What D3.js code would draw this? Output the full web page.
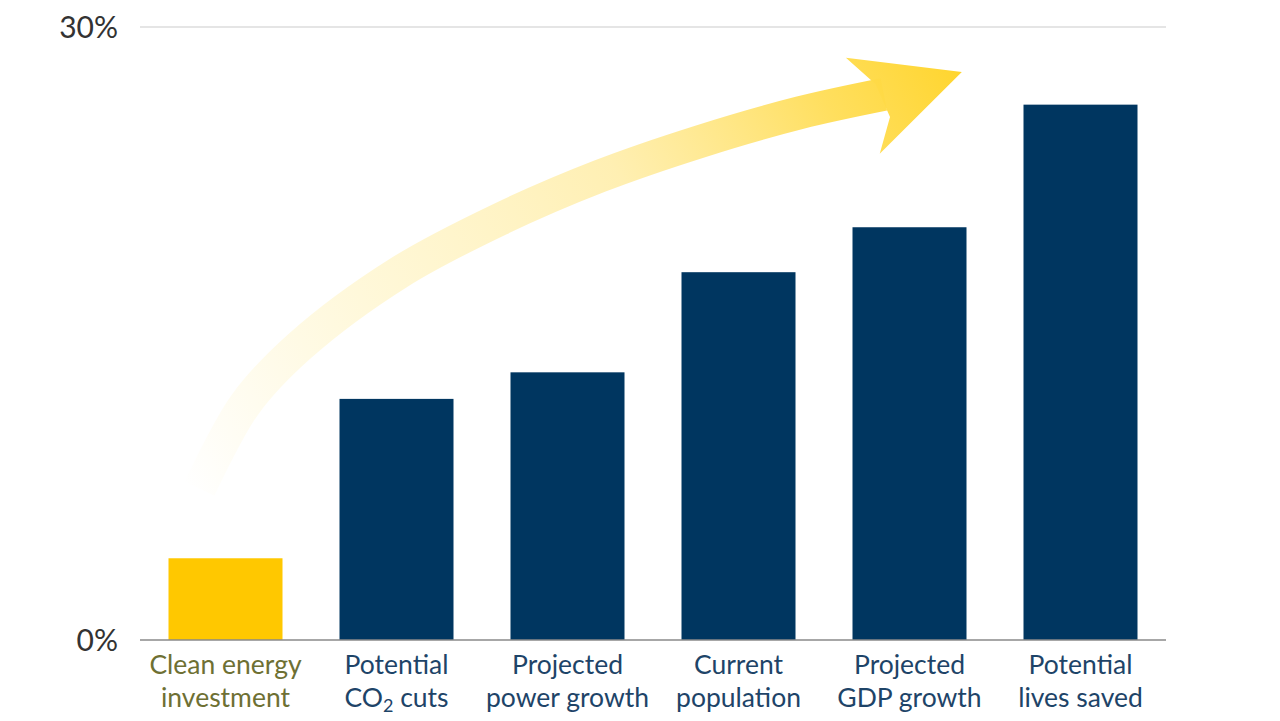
<!DOCTYPE html>
<html><head><meta charset="utf-8">
<script src="https://cdn.jsdelivr.net/npm/d3@7"></script>
<style>body{margin:0;background:#fff;}svg{display:block;}</style>
</head><body>
<svg id="chart" width="1280" height="721"></svg>
<script>
const categories = ["Clean energy investment","Potential CO2 cuts","Projected power growth","Current population","Projected GDP growth","Potential lives saved"];
const labelLines = [["Clean energy","investment"],["Potential","CO|2| cuts"],["Projected","power growth"],["Current","population"],["Projected","GDP growth"],["Potential","lives saved"]];
const values = [4.0, 11.8, 13.1, 18.0, 20.2, 26.2];
const tickValues = [0, 30];
const tickLabels = ["0%","30%"];
// decorative arrow centerline, in [fraction of plot width, percent] units
const arrowPath = [[0.058,7.4],[0.102,11.5],[0.156,14.4],[0.253,18.0],[0.351,20.6],[0.448,22.7],[0.546,24.4],[0.643,25.8],[0.725,26.7]];
const arrowHead = [[0.688,28.5],[0.801,27.8],[0.721,23.8],[0.731,25.6],[0.717,27.2]];

const svg = d3.select("#chart");
const m = {left:140, right:114, top:27, bottom:81};
const W = 1280 - m.left - m.right, H = 721 - m.top - m.bottom;
const g = svg.append("g").attr("transform",`translate(${m.left},${m.top})`);

const x = d3.scaleBand().domain(categories).range([0,W]).paddingInner(1/3).paddingOuter(1/6);
const y = d3.scaleLinear().domain([0,30]).range([H,0]);
const fx = d3.scaleLinear().domain([0,1]).range([0,W]);

// grid line at top
g.append("line").attr("x1",0).attr("x2",W).attr("y1",y(30)).attr("y2",y(30)).attr("stroke","#dcdcdc").attr("stroke-width",1.5);

// arrow
const defs = svg.append("defs");
const grad = defs.append("linearGradient").attr("id","ag").attr("gradientUnits","userSpaceOnUse")
  .attr("x1",fx(0.05)).attr("y1",y(7)).attr("x2",fx(0.80)).attr("y2",y(28));
grad.append("stop").attr("offset","0").attr("stop-color","#FFEFA8").attr("stop-opacity",0);
grad.append("stop").attr("offset","0.3").attr("stop-color","#FFF0B0").attr("stop-opacity",0.5);
grad.append("stop").attr("offset","0.6").attr("stop-color","#FFEA99").attr("stop-opacity",0.75);
grad.append("stop").attr("offset","0.85").attr("stop-color","#FFDD55").attr("stop-opacity",0.95);
grad.append("stop").attr("offset","1").attr("stop-color","#FFD52E").attr("stop-opacity",1);

const line = d3.line().x(d=>fx(d[0])).y(d=>y(d[1])).curve(d3.curveCatmullRom);
g.append("path").attr("d",line(arrowPath)).attr("fill","none").attr("stroke","url(#ag)").attr("stroke-width",33);
g.append("path").attr("d","M"+arrowHead.map(d=>[fx(d[0]),y(d[1])].join(",")).join("L")+"Z").attr("fill","url(#ag)");

// bars
g.selectAll("rect.bar").data(values).enter().append("rect")
  .attr("x",(d,i)=>x(categories[i])).attr("y",d=>y(d))
  .attr("width",x.bandwidth()).attr("height",d=>H-y(d))
  .attr("fill",(d,i)=>i===0?"#FFC800":"#003660");

// baseline
g.append("line").attr("x1",0).attr("x2",W).attr("y1",H).attr("y2",H).attr("stroke","#8a8a8a").attr("stroke-width",1.5);

// y ticks
const yAxis = d3.axisLeft(y).tickValues(tickValues).tickSize(0).tickPadding(22).tickFormat((d,i)=>tickLabels[i]);
const ya = g.append("g").call(yAxis);
ya.select(".domain").remove();
ya.selectAll("text").attr("font-family","Lato, sans-serif").attr("font-size",30).attr("fill","#333").attr("dy","0.36em");

// x labels
const xl = g.append("g").attr("transform",`translate(0,${H})`);
labelLines.forEach((lines,i)=>{
  const t = xl.append("text").attr("x",x(categories[i])+x.bandwidth()/2).attr("text-anchor","middle")
    .attr("font-family","Lato, sans-serif").attr("font-size",26.5)
    .attr("fill", i===0?"#6e7033":"#1e4468");
  lines.forEach((ln,j)=>{
    const parts = ln.split("|");
    const yy = 34 + j*33;
    if(parts.length===1){
      t.append("tspan").attr("x",x(categories[i])+x.bandwidth()/2).attr("y",yy).text(ln);
    } else {
      t.append("tspan").attr("x",x(categories[i])+x.bandwidth()/2).attr("y",yy).text(parts[0]);
      t.append("tspan").attr("dy",5).attr("font-size",18).text(parts[1]);
      t.append("tspan").attr("dy",-5).text(parts[2]);
    }
  });
});
</script>
</body></html>
